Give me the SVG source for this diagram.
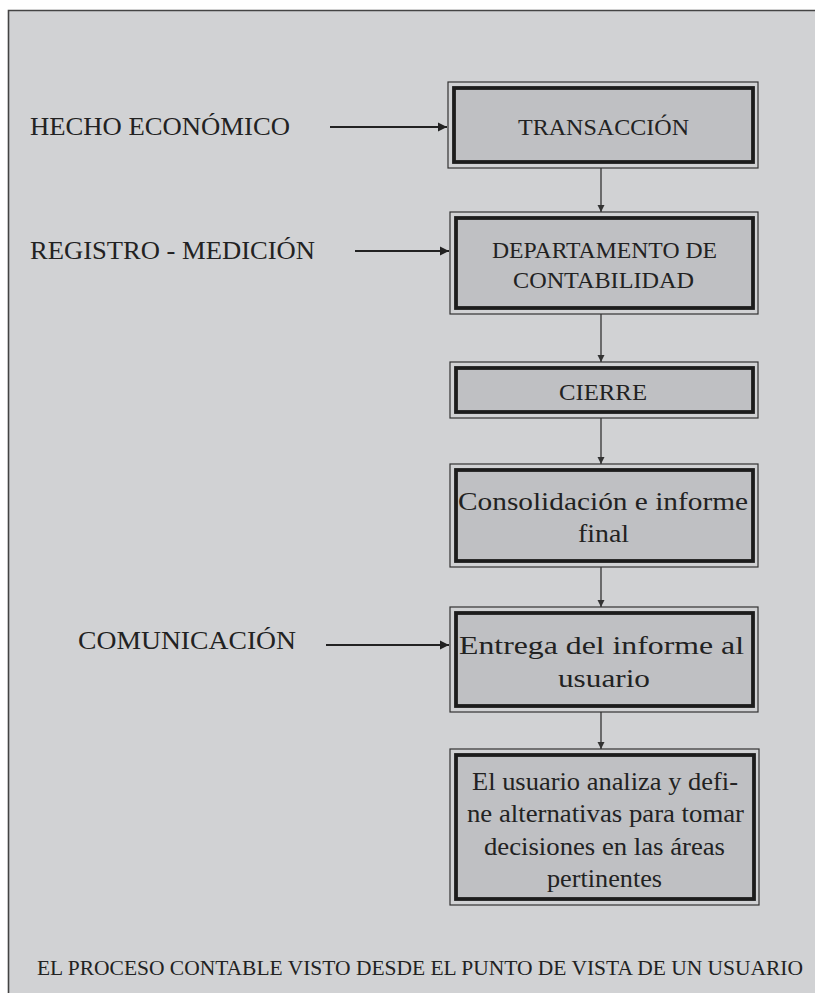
<svg xmlns="http://www.w3.org/2000/svg" width="815" height="993" viewBox="0 0 815 993">
<style>
.lbl{font-family:"Liberation Serif","Times New Roman",serif;fill:#222;}
.outer{fill:none;stroke:#333;stroke-width:1.2;}
.inner{fill:#bfc0c3;stroke:#1c1c1c;stroke-width:3.8;}
.v{stroke:#333;stroke-width:1.3;fill:none;}
.h{stroke:#222;stroke-width:2.2;fill:none;}
</style>
<defs>
<marker id="ah" markerWidth="8" markerHeight="8" refX="7" refY="4" orient="auto" markerUnits="userSpaceOnUse">
<path d="M0,0.5 L7,4 L0,7.5 Z" fill="#333"/>
</marker>
<marker id="ahb" markerWidth="10" markerHeight="10" refX="9" refY="5" orient="auto" markerUnits="userSpaceOnUse">
<path d="M0,0.5 L9,5 L0,9.5 Z" fill="#222"/>
</marker>
</defs>
<rect x="0" y="0" width="815" height="993" fill="#ffffff"/>
<rect x="8" y="11" width="807" height="982" fill="#d1d2d4"/>
<path d="M8.5,993 V10.5 H815" fill="none" stroke="#444" stroke-width="1.6"/>

<g id="label-hecho"><text class="lbl" x="30" y="135" font-size="25" textLength="260" lengthAdjust="spacingAndGlyphs">HECHO ECONÓMICO</text></g>
<g id="label-registro"><text class="lbl" x="30" y="259" font-size="25" textLength="285" lengthAdjust="spacingAndGlyphs">REGISTRO - MEDICIÓN</text></g>
<g id="label-comunicacion"><text class="lbl" x="78" y="649" font-size="25" textLength="218" lengthAdjust="spacingAndGlyphs">COMUNICACIÓN</text></g>

<g id="n1">
<rect class="outer" x="448" y="82" width="310" height="86"/>
<rect class="inner" x="454" y="88" width="299" height="74"/>
<text class="lbl" x="518" y="135" font-size="24" textLength="171" lengthAdjust="spacingAndGlyphs">TRANSACCIÓN</text>
</g>
<g id="n2">
<rect class="outer" x="450" y="212" width="308" height="102"/>
<rect class="inner" x="456" y="218" width="297" height="90"/>
<text class="lbl" x="492" y="258" font-size="23" textLength="225" lengthAdjust="spacingAndGlyphs">DEPARTAMENTO DE</text>
<text class="lbl" x="513" y="288" font-size="23" textLength="181" lengthAdjust="spacingAndGlyphs">CONTABILIDAD</text>
</g>
<g id="n3">
<rect class="outer" x="450" y="362" width="308" height="56"/>
<rect class="inner" x="456" y="368" width="297" height="44"/>
<text class="lbl" x="559" y="400" font-size="23" textLength="88" lengthAdjust="spacingAndGlyphs">CIERRE</text>
</g>
<g id="n4">
<rect class="outer" x="450" y="464" width="308" height="103"/>
<rect class="inner" x="456" y="470" width="297" height="91"/>
<text class="lbl" x="458" y="510" font-size="26" textLength="290" lengthAdjust="spacingAndGlyphs">Consolidación e informe</text>
<text class="lbl" x="578" y="542" font-size="26" textLength="51" lengthAdjust="spacingAndGlyphs">final</text>
</g>
<g id="n5">
<rect class="outer" x="450" y="607" width="308" height="105"/>
<rect class="inner" x="456" y="613" width="297" height="93"/>
<text class="lbl" x="459" y="654" font-size="26" textLength="285" lengthAdjust="spacingAndGlyphs">Entrega del informe al</text>
<text class="lbl" x="558" y="687" font-size="26" textLength="92" lengthAdjust="spacingAndGlyphs">usuario</text>
</g>
<g id="n6">
<rect class="outer" x="450" y="749" width="309" height="156"/>
<rect class="inner" x="456" y="755" width="298" height="144"/>
<text class="lbl" x="472" y="790" font-size="25" textLength="266" lengthAdjust="spacingAndGlyphs">El usuario analiza y defi-</text>
<text class="lbl" x="467" y="822" font-size="25" textLength="277" lengthAdjust="spacingAndGlyphs">ne alternativas para tomar</text>
<text class="lbl" x="484" y="855" font-size="25" textLength="241" lengthAdjust="spacingAndGlyphs">decisiones en las áreas</text>
<text class="lbl" x="547" y="887" font-size="25" textLength="115" lengthAdjust="spacingAndGlyphs">pertinentes</text>
</g>

<g id="caption"><text class="lbl" x="37" y="975" font-size="20" textLength="766" lengthAdjust="spacingAndGlyphs">EL PROCESO CONTABLE VISTO DESDE EL PUNTO DE VISTA DE UN USUARIO</text></g>

<g id="connectors">
<line class="h" x1="330" y1="127" x2="447" y2="127" marker-end="url(#ahb)"/>
<line class="h" x1="355" y1="251" x2="449" y2="251" marker-end="url(#ahb)"/>
<line class="h" x1="326" y1="645" x2="449" y2="645" marker-end="url(#ahb)"/>
<line class="v" x1="601" y1="168" x2="601" y2="212" marker-end="url(#ah)"/>
<line class="v" x1="601" y1="314" x2="601" y2="362" marker-end="url(#ah)"/>
<line class="v" x1="601" y1="418" x2="601" y2="464" marker-end="url(#ah)"/>
<line class="v" x1="601" y1="567" x2="601" y2="607" marker-end="url(#ah)"/>
<line class="v" x1="601" y1="712" x2="601" y2="749" marker-end="url(#ah)"/>
</g>
</svg>
